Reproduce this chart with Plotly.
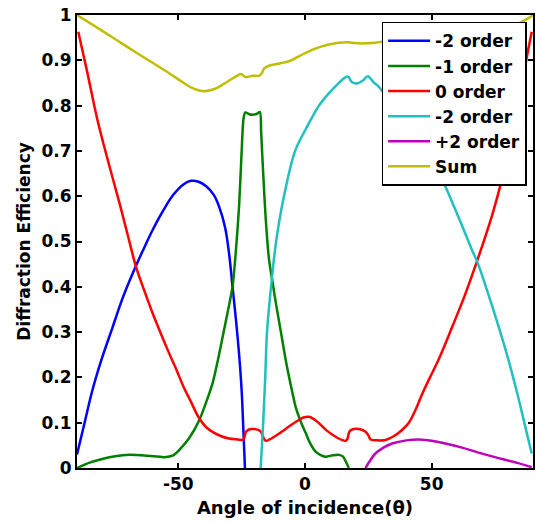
import plotly.graph_objects as go

# ---- data ----
m2_x = [-90, -87, -84, -80.4, -76, -72, -68, -64, -60, -56, -52, -48, -45, -42, -39, -36, -33.9, -31.5, -29.9, -28.6,
        -27.3, -26, -25, -24.3, -23.7]
m2_y = [0.03, 0.10, 0.17, 0.238, 0.31, 0.375, 0.43, 0.48, 0.527, 0.568, 0.603, 0.626, 0.634, 0.632, 0.622, 0.603, 0.577,
        0.53, 0.47, 0.40, 0.33, 0.25, 0.17, 0.08, 0.0]

m1_x = [-90, -85, -80, -75, -69.3, -62, -55.5, -52, -49.6, -45.5, -41.7, -36.5, -34.5, -32.5, -30.5, -28.6, -27, -26, -25,
        -24.3, -23.6, -22, -20.7, -19, -17.8, -17.3, -16.5, -15.5, -14.2, -12.8, -11.5, -9.5, -7.6, -5.5, -3.7, -1.5,
        0.3, 2, 4.2, 6, 8.1, 11, 13.4, 15, 16.3, 17.3]
m1_y = [0.0, 0.012, 0.02, 0.026, 0.029, 0.027, 0.024, 0.028, 0.04, 0.068, 0.106, 0.187, 0.235, 0.29, 0.345, 0.40, 0.50,
        0.58, 0.70, 0.77, 0.785, 0.781, 0.780, 0.782, 0.786, 0.74, 0.65, 0.55, 0.46, 0.41, 0.364, 0.30, 0.238, 0.18,
        0.135, 0.10, 0.077, 0.055, 0.036, 0.029, 0.025, 0.028, 0.029, 0.025, 0.012, 0.0]

z_x = [-89.5, -86, -82, -78, -73.2, -70, -66.7, -63, -60.1, -57, -54, -51, -48, -45, -42, -39, -36, -33, -30, -26.5,
       -24.7, -24, -23.3, -21.5, -20.1, -18.5, -17.4, -16.5, -15.5, -13, -10.2, -8.9, -5.5, -2.4, -0.4, 1.6, 3.5, 5.5,
       8.5, 12.1, 14.5, 16, 16.8, 17.5, 18.6, 21.3, 23.9, 25, 25.9, 28.5, 31.8, 35, 38.3, 41, 43.6, 46, 48.8, 52.8, 58,
       63, 67.8, 73.7, 77.7, 80.5, 83, 86, 88, 89.5]
z_y = [0.963, 0.875, 0.77, 0.683, 0.584, 0.515, 0.444, 0.385, 0.341, 0.298, 0.258, 0.22, 0.18, 0.146, 0.112, 0.09,
       0.078, 0.07, 0.065, 0.063, 0.062, 0.066, 0.08, 0.086, 0.086, 0.084, 0.08, 0.068, 0.06, 0.066, 0.076, 0.081,
       0.095, 0.106, 0.112, 0.113, 0.108, 0.099, 0.083, 0.069, 0.062, 0.06, 0.065, 0.08, 0.085, 0.086, 0.08, 0.072,
       0.063, 0.061, 0.062, 0.07, 0.084, 0.1, 0.128, 0.16, 0.194, 0.24, 0.31, 0.38, 0.455, 0.555, 0.636, 0.70, 0.77,
       0.86, 0.92, 0.963]

c_x = [-17.5, -16.5, -15.7, -15, -13.4, -11.4, -8.3, -3.9, 0, 2.9, 5.5, 9.4, 13, 16.9, 18.5, 20.6, 22.8, 24.8, 27,
       29.1, 32, 36, 40, 45, 50, 54.1, 58, 62, 66, 68, 72, 76, 80, 84, 87, 89.5]
c_y = [0.0, 0.1, 0.2, 0.3, 0.4, 0.5, 0.6, 0.7, 0.745, 0.775, 0.8, 0.827, 0.848, 0.864, 0.852, 0.849, 0.855, 0.865, 0.852,
       0.842, 0.82, 0.79, 0.755, 0.71, 0.67, 0.636, 0.588, 0.535, 0.48, 0.455, 0.39, 0.32, 0.245, 0.16, 0.09, 0.032]

p2_x = [23.9, 25.2, 27.8, 31, 34.4, 40, 44.9, 50, 55.4, 62, 68.5, 75, 82, 89.5]
p2_y = [0.0, 0.012, 0.032, 0.045, 0.054, 0.061, 0.063, 0.06, 0.054, 0.045, 0.034, 0.024, 0.014, 0.002]

s_x = [-90, -80, -70, -60, -53.5, -50, -45, -40.4, -36, -32, -28, -25.3, -24.3, -23.3, -20.5, -18.1, -17, -16.1, -14.2,
       -10, -6.3, -2, 2.8, 9.4, 16.9, 19.5, 22.6, 26, 29.1, 35, 45, 55, 65, 75, 82, 88.2, 90]
s_y = [1.0, 0.965, 0.929, 0.894, 0.871, 0.858, 0.84, 0.832, 0.836, 0.848, 0.862, 0.870, 0.866, 0.863, 0.866, 0.866,
       0.872, 0.882, 0.888, 0.893, 0.898, 0.91, 0.923, 0.935, 0.940, 0.938, 0.937, 0.938, 0.940, 0.942, 0.945, 0.95,
       0.955, 0.965, 0.975, 0.993, 1.0]

series_names = ["-2 order", "-1 order", "0 order", "-2 order", "+2 order", "Sum"]
x_tick_vals = [-50, 0, 50]
x_tick_text = ["-50", "0", "50"]

colors = ["#0000ff", "#008000", "#ff0000", "#22bfbf", "#bf00bf", "#bfbf00"]
smooth = [1.0, 0.7, 1.0, 1.0, 1.0, 1.0]
data = [(m2_x, m2_y), (m1_x, m1_y), (z_x, z_y), (c_x, c_y), (p2_x, p2_y), (s_x, s_y)]

FONT = "DejaVu Sans"
fig = go.Figure()
for i, ((xs, ys), name) in enumerate(zip(data, series_names)):
    fig.add_trace(go.Scatter(x=xs, y=ys, mode="lines", name=name, legendgroup=str(i),
                             line=dict(color=colors[i], width=2.5, shape="spline", smoothing=smooth[i])))

fig.update_layout(
    width=537, height=523,
    margin=dict(l=77, r=2, t=15, b=55),
    plot_bgcolor="white", paper_bgcolor="white",
    font=dict(family=FONT, size=17, color="black", weight="bold"),
    showlegend=True,
    legend=dict(x=0.668, y=0.985, xanchor="left", yanchor="top",
                bgcolor="white", bordercolor="black", borderwidth=1.5,
                font=dict(family=FONT, size=17, color="black", weight="bold"),
                tracegroupgap=0, itemwidth=42),
    xaxis=dict(range=[-90, 90], tickvals=x_tick_vals, ticktext=x_tick_text,
               ticks="inside", ticklen=5, tickwidth=1.5, tickcolor="black",
               showline=True, linecolor="black", linewidth=2, mirror="ticks",
               showgrid=False, zeroline=False,
               title=dict(text="Angle of incidence(θ)", standoff=8,
                          font=dict(family=FONT, size=18, weight="bold"))),
    yaxis=dict(range=[0, 1], dtick=0.1,
               ticks="inside", ticklen=5, tickwidth=1.5, tickcolor="black",
               showline=True, linecolor="black", linewidth=2, mirror="ticks",
               showgrid=False, zeroline=False,
               title=dict(text="Diffraction Efficiency", standoff=7,
                          font=dict(family=FONT, size=17, weight="bold"))),
)

fig.write_html("out.html")
